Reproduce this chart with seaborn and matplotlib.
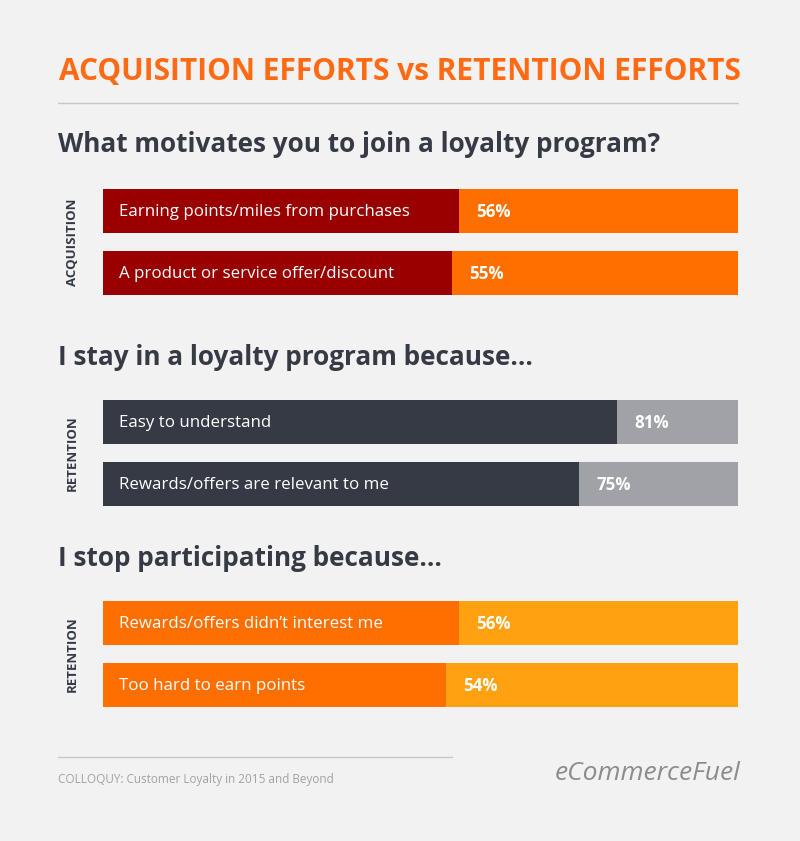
import matplotlib
matplotlib.use("Agg")
import matplotlib.pyplot as plt
import seaborn as sns
import pandas as pd

sns.set_theme(style="white")
plt.rcParams['font.family'] = ['Open Sans', 'DejaVu Sans']

title = "ACQUISITION EFFORTS vs RETENTION EFFORTS"
headings = ["What motivates you to join a loyalty program?",
            "I stay in a loyalty program because...",
            "I stop participating because..."]
side_labels = ["ACQUISITION", "RETENTION", "RETENTION"]
labels = [["Earning points/miles from purchases", "A product or service offer/discount"],
          ["Easy to understand", "Rewards/offers are relevant to me"],
          ["Rewards/offers didn\u2019t interest me", "Too hard to earn points"]]
values = [[56, 55], [81, 75], [56, 54]]
colors = [("#990000", "#FF6F00"), ("#353A45", "#A0A2A8"), ("#FF6F00", "#FFA110")]

W, H = 800, 841
fig = plt.figure(figsize=(8, 8.41), dpi=100)
fig.patch.set_facecolor("#F2F2F2")

def fx(px): return px / W
def fy(py): return 1 - py / H

fig.text(0.5, fy(72), title, ha="center", va="center", fontsize=21.5,
         fontweight="bold", color="#FF6A13")
fig.add_artist(plt.Line2D([fx(58), fx(738)], [fy(103), fy(103)], color="#C8C8C8", lw=1))

heading_y = [145, 357, 559]
group_top = [189, 400, 601]
for i in range(3):
    fig.text(fx(58), fy(heading_y[i]), headings[i], ha="left", va="center",
             fontsize=18.8, fontweight="bold", color="#353A45")
    top, bottom = group_top[i], group_top[i] + 106
    ax = fig.add_axes([fx(103), fy(bottom), fx(738) - fx(103), (bottom - top) / H])
    df = pd.DataFrame({"label": labels[i], "value": values[i], "full": [100, 100]})
    sns.barplot(data=df, x="full", y="label", color=colors[i][1], width=0.71,
                saturation=1, ax=ax, orient="h", linewidth=0)
    sns.barplot(data=df, x="value", y="label", color=colors[i][0], width=0.71,
                saturation=1, ax=ax, orient="h", linewidth=0)
    ax.set_xlim(0, 100)
    ax.set_ylim(1.355, -0.355)
    ax.set_facecolor("none")
    for s in ax.spines.values():
        s.set_visible(False)
    ax.set_xticks([]); ax.set_yticks([])
    ax.set_xlabel(""); ax.set_ylabel("")
    for j, v in enumerate(values[i]):
        ax.text(2.5, j + 0.02, labels[i][j], ha="left", va="center", fontsize=12.2, color="white")
        ax.text(v + 2.7, j + 0.02, f"{v}%", ha="left", va="center", fontsize=12.2,
                fontweight="bold", color="white")
    fig.text(fx(72), fy((top + bottom) / 2), side_labels[i], rotation=90, ha="center",
             va="center", fontsize=9.5, fontweight="bold", color="#353A45")

fig.add_artist(plt.Line2D([fx(58), fx(452)], [fy(757), fy(757)], color="#C8C8C8", lw=1))
fig.text(fx(58), fy(779), "COLLOQUY: Customer Loyalty in 2015 and Beyond", ha="left",
         va="center", fontsize=8.5, color="#A0A2A8")
fig.text(fx(740), fy(774), "eCommerceFuel", ha="right", va="center", fontsize=19,
         style="italic", color="#8A8C90")

fig.savefig("out.png", dpi=100, facecolor=fig.get_facecolor())
